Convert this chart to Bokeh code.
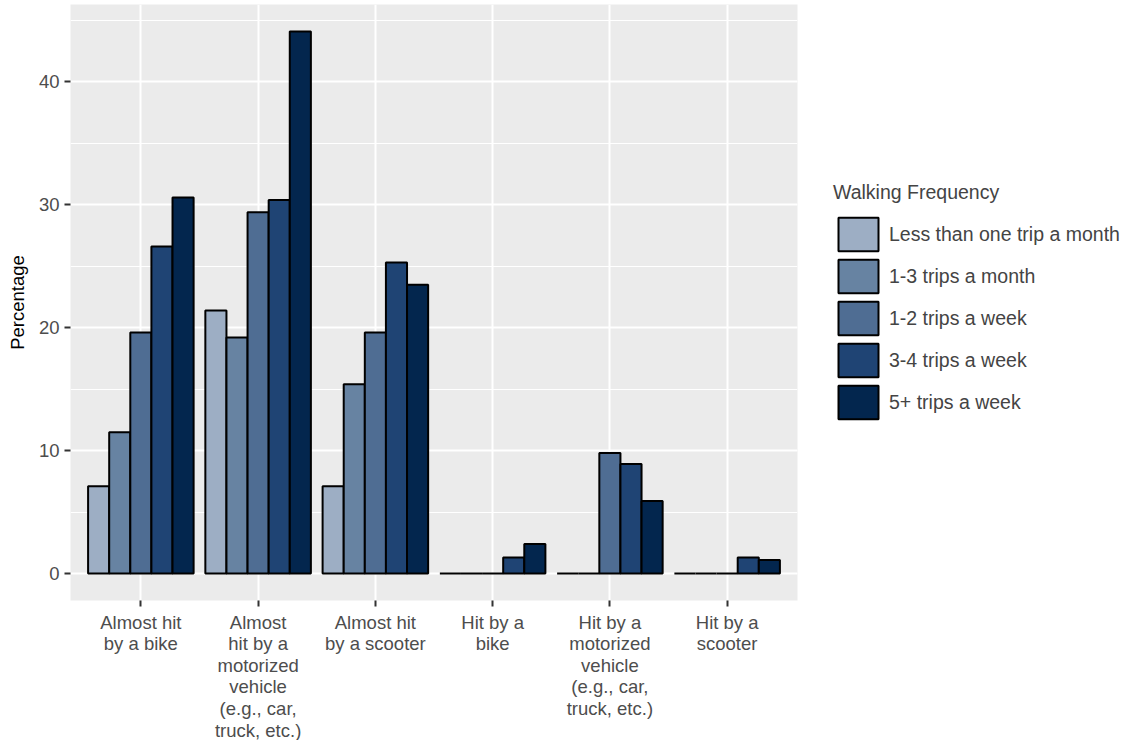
from bokeh.plotting import figure
from bokeh.models import (Range1d, SingleIntervalTicker, FixedTicker, Legend,
                          LegendItem, ColumnDataSource)
from bokeh.transform import dodge
from bokeh.embed import file_html
from bokeh.resources import INLINE

categories = [
    "Almost hit\nby a bike",
    "Almost\nhit by a\nmotorized\nvehicle\n(e.g., car,\ntruck, etc.)",
    "Almost hit\nby a scooter",
    "Hit by a\nbike",
    "Hit by a\nmotorized\nvehicle\n(e.g., car,\ntruck, etc.)",
    "Hit by a\nscooter",
]
series = ["Less than one trip a month", "1-3 trips a month", "1-2 trips a week",
          "3-4 trips a week", "5+ trips a week"]
less_than_monthly = [7.1, 21.4, 7.1, 0, 0, 0]
monthly_1_3 = [11.5, 19.2, 15.4, 0, 0, 0]
weekly_1_2 = [19.6, 29.4, 19.6, 0, 9.8, 0]
weekly_3_4 = [26.6, 30.4, 25.3, 1.3, 8.9, 1.3]
weekly_5_plus = [30.6, 44.1, 23.5, 2.4, 5.9, 1.1]
colors = ["#9DAEC4", "#6783A2", "#4F6D93", "#1F4474", "#03264E"]

xs = list(range(1, len(categories) + 1))
cols = ["s0", "s1", "s2", "s3", "s4"]
src = ColumnDataSource(dict(x=xs, s0=less_than_monthly, s1=monthly_1_3,
                            s2=weekly_1_2, s3=weekly_3_4, s4=weekly_5_plus))

FONT = "Liberation Sans"

p = figure(frame_width=727, frame_height=596, min_border_left=70, min_border_top=4,
           min_border_bottom=136, min_border_right=330,
           x_range=Range1d(0.4, 6.6), y_range=Range1d(-2.2, 46.3),
           output_backend="svg", toolbar_location=None)
p.background_fill_color = "#EBEBEB"
p.border_fill_color = "white"
p.outline_line_color = None

bw = 0.18
renderers = []
for j, c in enumerate(cols):
    r = p.vbar(x=dodge("x", (j - 2) * bw), top=c, bottom=0, width=bw, source=src,
               fill_color=colors[j], line_color="black", line_width=2)
    renderers.append(r)

# axes
p.xaxis.ticker = FixedTicker(ticks=xs)
p.xaxis.major_label_overrides = {x: lab for x, lab in zip(xs, categories)}
p.yaxis.ticker = SingleIntervalTicker(interval=10, num_minor_ticks=2)
for ax in (p.xaxis[0], p.yaxis[0]):
    ax.axis_line_color = None
    ax.major_tick_line_color = "#333333"
    ax.major_tick_line_width = 2
    ax.major_tick_out = 6
    ax.major_tick_in = 0
    ax.minor_tick_line_color = None
    ax.major_label_text_font = FONT
    ax.major_label_text_font_size = "18.5px"
    ax.major_label_text_color = "#4D4D4D"
p.xaxis.major_label_text_line_height = 1.03
p.xaxis.major_label_standoff = 5
p.yaxis.major_label_standoff = 5
p.yaxis.axis_label = "Percentage"
p.yaxis.axis_label_text_font = FONT
p.yaxis.axis_label_text_font_size = "18.5px"
p.yaxis.axis_label_text_font_style = "normal"
p.yaxis.axis_label_text_color = "black"
p.yaxis.axis_label_standoff = 8

# grid
p.xgrid.ticker = FixedTicker(ticks=xs)
p.xgrid.grid_line_color = "white"
p.xgrid.grid_line_width = 2
p.ygrid.grid_line_color = "white"
p.ygrid.grid_line_width = 2
p.ygrid.minor_grid_line_color = "white"
p.ygrid.minor_grid_line_width = 1

legend = Legend(items=[LegendItem(label=s, renderers=[r]) for s, r in zip(series, renderers)],
                location=(36, 177))
legend.title = "Walking Frequency"
legend.title_text_font = FONT
legend.title_text_font_size = "19.5px"
legend.title_text_font_style = "normal"
legend.title_standoff = 9
legend.label_text_font = FONT
legend.label_text_font_size = "19.5px"
legend.glyph_width = 50
legend.glyph_height = 42
legend.label_height = 42
legend.spacing = 0
legend.label_standoff = 6
legend.padding = 0
legend.margin = 0
legend.border_line_color = None
legend.background_fill_alpha = 0
p.add_layout(legend, "right")

open("out.html", "w").write(file_html(p, INLINE))
